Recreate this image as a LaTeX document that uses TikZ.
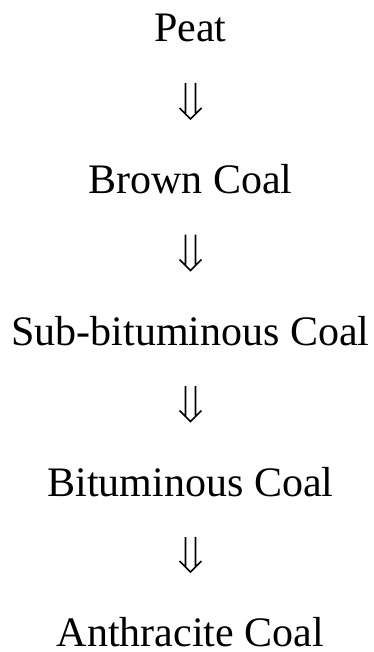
\documentclass[tikz,border=0pt]{standalone}
\usepackage{fontspec}
\setmainfont{Liberation Serif}
\usetikzlibrary{calc}
\tikzset{
  stage/.style={anchor=base, inner sep=0pt, text depth=0pt, font=\fontsize{42}{50}\selectfont},
  dblarrow/.style={line width=1.6pt, line join=miter, line cap=butt,
    to path={let \p1=(\tikztostart), \p2=(\tikztotarget) in
      (\x1-5pt,\y1-41pt) -- (\x1-5pt,\y2+80.5pt)
      (\x1+5pt,\y1-41pt) -- (\x1+5pt,\y2+80.5pt)
      (\x1-11pt,\y2+85.5pt) -- (\x1,\y2+74.5pt) -- (\x1+11pt,\y2+85.5pt)}}
}
\begin{document}
\begin{tikzpicture}[x=1pt,y=1pt]
\useasboundingbox (0,0) rectangle (374,-652);
\node[stage] (peat)   at (190.5,-42)    {Peat};
\node[stage] (brown)  at (190.5,-193.5) {Brown Coal};
\node[stage] (subbit) at (190.5,-345)   {Sub-bituminous Coal};
\node[stage] (bit)    at (190.5,-496)   {Bituminous Coal};
\node[stage] (anth)   at (190.5,-646.5) {Anthracite Coal};
\draw[dblarrow] (peat.base) to (brown.base);
\draw[dblarrow] (brown.base) to (subbit.base);
\draw[dblarrow] (subbit.base) to (bit.base);
\draw[dblarrow] (bit.base) to (anth.base);
\end{tikzpicture}
\end{document}
